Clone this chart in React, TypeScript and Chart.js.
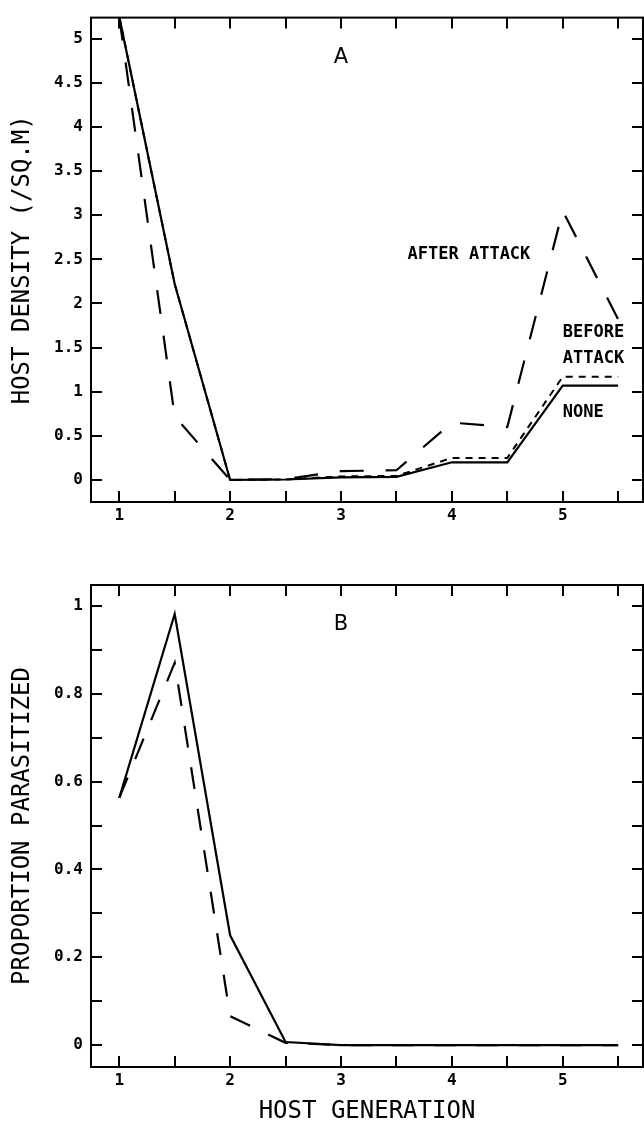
import React, { useEffect, useRef } from "react";
import { Chart, registerables } from "chart.js";

Chart.register(...registerables);

// ---------- data ----------
const generations = [1, 1.5, 2, 2.5, 3, 3.5, 4, 4.5, 5, 5.5];

// Panel A: host density (/sq. m)
const densityNone = [5.25, 2.22, 0.0, 0.005, 0.03, 0.035, 0.2, 0.2, 1.07, 1.07];
const densityBefore = [5.25, 2.22, 0.0, 0.005, 0.04, 0.045, 0.25, 0.25, 1.17, 1.17];
const densityAfter = [5.25, 0.72, 0.0, 0.01, 0.1, 0.11, 0.65, 0.6, 3.05, 1.82];

// Panel B: proportion parasitized
const parasitizedSolid = [0.563, 0.982, 0.25, 0.007, 0.0, 0.0, 0.0, 0.0, 0.0, 0.0];
const parasitizedDashed = [0.563, 0.871, 0.066, 0.005, 0.0, 0.0, 0.0, 0.0, 0.0, 0.0];

// tick values and labels
const xTickValues = [1, 1.5, 2, 2.5, 3, 3.5, 4, 4.5, 5, 5.5];
const xTickLabels = ["1", "", "2", "", "3", "", "4", "", "5", ""];
const yTickValuesA = [0, 0.5, 1, 1.5, 2, 2.5, 3, 3.5, 4, 4.5, 5];
const yTickLabelsA = ["0", "0.5", "1", "1.5", "2", "2.5", "3", "3.5", "4", "4.5", "5"];
const yTickValuesB = [0, 0.1, 0.2, 0.3, 0.4, 0.5, 0.6, 0.7, 0.8, 0.9, 1];
const yTickLabelsB = ["0", "", "0.2", "", "0.4", "", "0.6", "", "0.8", "", "1"];

const MONO = '"DejaVu Sans Mono", "Liberation Mono", monospace';
const SANS = '"DejaVu Sans", "Liberation Sans", sans-serif';

const notesA = [
  { text: "A", x: 3.0, y: 4.79, align: "center", font: `21px ${SANS}` },
  { text: "AFTER ATTACK", x: 3.6, y: 2.55, align: "left", font: `bold 17px ${MONO}` },
  { text: "BEFORE", x: 5.0, y: 1.67, align: "left", font: `bold 17px ${MONO}` },
  { text: "ATTACK", x: 5.0, y: 1.38, align: "left", font: `bold 17px ${MONO}` },
  { text: "NONE", x: 5.0, y: 0.76, align: "left", font: `bold 17px ${MONO}` },
];
const notesB = [{ text: "B", x: 3.0, y: 0.957, align: "center", font: `21px ${SANS}` }];

const toPoints = (xs: number[], ys: number[]) => xs.map((x, i) => ({ x, y: ys[i] }));

// frame + inward ticks + annotations
const framePlugin = {
  id: "frame",
  afterDraw(chart: any, _args: any, opts: any) {
    const { ctx, chartArea: a, scales } = chart;
    const xs = scales.x;
    const ys = scales.y;
    const L = 11;
    ctx.save();
    ctx.strokeStyle = "#000";
    ctx.lineWidth = 2;
    ctx.strokeRect(a.left, a.top, a.right - a.left, a.bottom - a.top);
    ctx.beginPath();
    xs.ticks.forEach((t: any) => {
      const px = Math.round(xs.getPixelForValue(t.value));
      ctx.moveTo(px, a.bottom);
      ctx.lineTo(px, a.bottom - L);
      ctx.moveTo(px, a.top);
      ctx.lineTo(px, a.top + L);
    });
    ys.ticks.forEach((t: any) => {
      const py = Math.round(ys.getPixelForValue(t.value));
      ctx.moveTo(a.left, py);
      ctx.lineTo(a.left + L, py);
      ctx.moveTo(a.right, py);
      ctx.lineTo(a.right - L, py);
    });
    ctx.stroke();
    ctx.fillStyle = "#000";
    ctx.textBaseline = "middle";
    (opts.notes || []).forEach((n: any) => {
      ctx.font = n.font;
      ctx.textAlign = n.align;
      ctx.fillText(n.text, xs.getPixelForValue(n.x), ys.getPixelForValue(n.y));
    });
    ctx.restore();
  },
};

function makeConfig(opts: {
  datasets: any[];
  yMin: number;
  yMax: number;
  yTicks: number[];
  yLabels: string[];
  yTitle: string;
  xTitle: string | null;
  xHeight: number;
  padTop: number;
  notes: any[];
}) {
  return {
    type: "line",
    data: { datasets: opts.datasets },
    plugins: [framePlugin],
    options: {
      responsive: false,
      animation: false,
      layout: { padding: { top: opts.padTop, right: 1, bottom: 0, left: 0 } },
      plugins: {
        legend: { display: false },
        tooltip: { enabled: false },
        frame: { notes: opts.notes },
      },
      elements: { point: { radius: 0 }, line: { tension: 0 } },
      scales: {
        x: {
          type: "linear",
          min: 0.745,
          max: 5.724,
          grid: { display: false, drawTicks: false },
          border: { display: false },
          afterBuildTicks: (s: any) => {
            s.ticks = xTickValues.map((v) => ({ value: v }));
          },
          afterFit: (s: any) => {
            s.height = opts.xHeight;
          },
          ticks: {
            color: "#000",
            padding: 4,
            maxRotation: 0,
            autoSkip: false,
            font: { family: MONO, size: 16, weight: "bold" },
            callback: (_v: any, i: number) => xTickLabels[i],
          },
          title: opts.xTitle
            ? {
                display: true,
                text: opts.xTitle,
                color: "#000",
                font: { family: MONO, size: 24, weight: "normal", lineHeight: 1 },
                padding: { top: 0, bottom: 0 },
              }
            : { display: false },
        },
        y: {
          type: "linear",
          min: opts.yMin,
          max: opts.yMax,
          grid: { display: false, drawTicks: false },
          border: { display: false },
          afterBuildTicks: (s: any) => {
            s.ticks = opts.yTicks.map((v) => ({ value: v }));
          },
          afterFit: (s: any) => {
            s.width = 91;
          },
          ticks: {
            color: "#000",
            padding: 8,
            autoSkip: false,
            font: { family: MONO, size: 16, weight: "bold" },
            callback: (_v: any, i: number) => opts.yLabels[i],
          },
          title: {
            display: true,
            text: opts.yTitle,
            color: "#000",
            font: { family: MONO, size: 24, weight: "normal", lineHeight: 1 },
            padding: { top: 11, bottom: 0 },
          },
        },
      },
    },
  } as any;
}

export default function App() {
  const refA = useRef<HTMLCanvasElement>(null);
  const refB = useRef<HTMLCanvasElement>(null);

  useEffect(() => {
    const base = { borderColor: "#000", backgroundColor: "#000", fill: false, pointRadius: 0 };
    const chartA = new Chart(
      refA.current as HTMLCanvasElement,
      makeConfig({
        datasets: [
          { ...base, label: "None", data: toPoints(generations, densityNone), borderWidth: 2.2 },
          { ...base, label: "Before attack", data: toPoints(generations, densityBefore), borderWidth: 2, borderDash: [7, 6] },
          { ...base, label: "After attack", data: toPoints(generations, densityAfter), borderWidth: 2.2, borderDash: [24, 22] },
        ],
        yMin: -0.25,
        yMax: 5.24,
        yTicks: yTickValuesA,
        yLabels: yTickLabelsA,
        yTitle: "HOST DENSITY (/SQ.M)",
        xTitle: null,
        xHeight: 43,
        padTop: 13,
        notes: notesA,
      })
    );
    const chartB = new Chart(
      refB.current as HTMLCanvasElement,
      makeConfig({
        datasets: [
          { ...base, label: "Solid", data: toPoints(generations, parasitizedSolid), borderWidth: 2.2 },
          { ...base, label: "Dashed", data: toPoints(generations, parasitizedDashed), borderWidth: 2.2, borderDash: [22, 20] },
        ],
        yMin: -0.05,
        yMax: 1.048,
        yTicks: yTickValuesB,
        yLabels: yTickLabelsB,
        yTitle: "PROPORTION PARASITIZED",
        xTitle: "HOST GENERATION",
        xHeight: 57,
        padTop: 40,
        notes: notesB,
      })
    );
    return () => {
      chartA.destroy();
      chartB.destroy();
    };
  }, []);

  return (
    <div style={{ position: "absolute", left: 0, top: 0, width: 644, height: 1124, background: "#fff" }}>
      <canvas ref={refA} width={644} height={545} style={{ position: "absolute", left: 0, top: 0, width: 644, height: 545 }} />
      <canvas ref={refB} width={644} height={579} style={{ position: "absolute", left: 0, top: 545, width: 644, height: 579 }} />
    </div>
  );
}
